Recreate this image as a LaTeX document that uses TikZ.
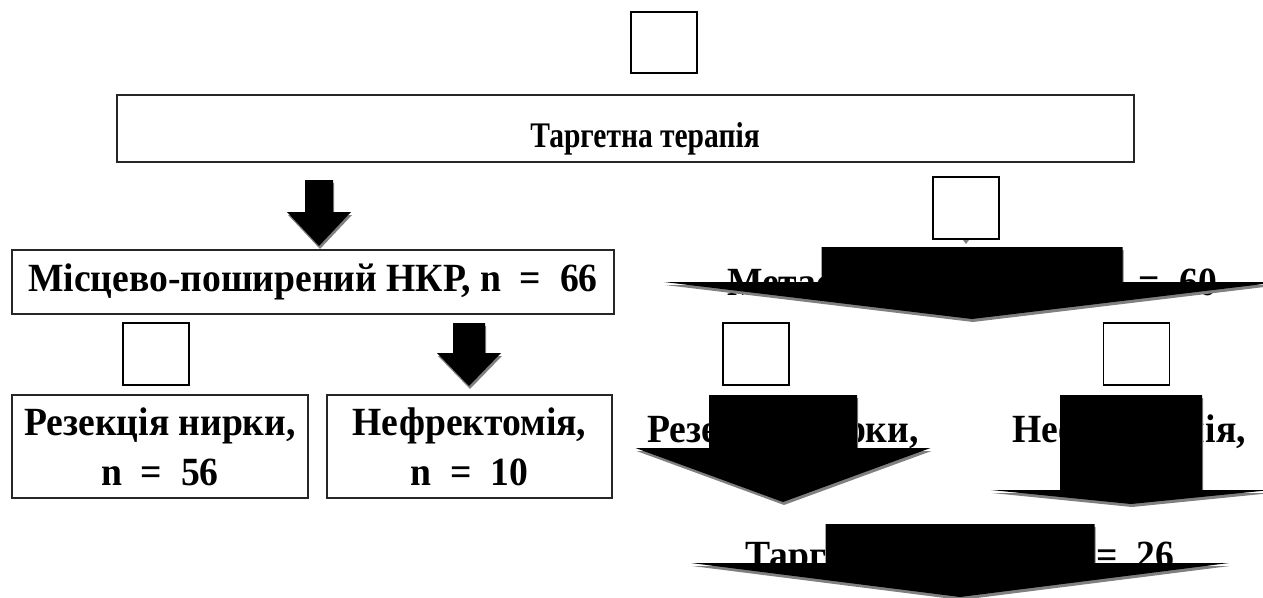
\documentclass[tikz,border=0pt]{standalone}
\usepackage{fontspec}
\setmainfont[FakeStretch=0.94]{Liberation Serif}
\newfontfamily\topfont[FakeStretch=0.82]{Liberation Serif}
\tikzset{
  box/.style={draw=black!85, line width=1.5pt, fill=white, inner sep=0pt},
  lbl/.style={font=\fontsize{40}{50}\selectfont\bfseries, align=center},
  toplbl/.style={font=\topfont\fontsize{36}{40}\selectfont\bfseries, align=center},
  sq/.style={draw=black, line width=1.3pt, fill=white, inner sep=0pt},
  arr/.style={fill=black},
  shd/.style={fill=black!50},
}
% cx, shaft top, shaft half width, head base, head half width, apex
\newcommand\blockarr[6]{%
  \path[shd, shift={(1,3)}] (#1-#3,#2) -- (#1+#3,#2) -- (#1+#3,#4) -- (#1+#5,#4) -- (#1,#6) -- (#1-#5,#4) -- (#1-#3,#4) -- cycle;
  \path[arr] (#1-#3,#2) -- (#1+#3,#2) -- (#1+#3,#4) -- (#1+#5,#4) -- (#1,#6) -- (#1-#5,#4) -- (#1-#3,#4) -- cycle;
}
\begin{document}
\begin{tikzpicture}[x=1pt,y=-1pt]
\useasboundingbox (0,0) rectangle (1263,597);
% left / top part
\node[sq, minimum width=66pt, minimum height=61pt] (s0) at (664,42.5) {};
\node[box, minimum width=1017pt, minimum height=67pt] (tt) at (625.5,128.5) {};
\node[toplbl, anchor=base] (ttl) at (645,147) {Таргетна терапія};
\node[box, lbl, minimum width=602pt, minimum height=64pt] (loc) at (313,282) {Місцево-поширений НКР, n~~=~~66};
\node[sq, minimum width=66pt, minimum height=62pt] (s1) at (156,354) {};
\node[box, lbl, minimum width=296pt, minimum height=103pt] (res) at (160,446.5) {Резекція нирки,\\ n~~=~~56};
\node[box, lbl, minimum width=285pt, minimum height=103pt] (nef) at (469.5,446.5) {Нефректомія,\\ n~~=~~10};
\blockarr{319}{180}{14}{212}{32}{246}
\blockarr{469}{323}{16}{353}{32}{386}
% right part
\node[sq, minimum width=66pt, minimum height=62pt] (s2) at (966,208) {};
\fill[shd] (963,240) -- (969,240) -- (966,244) -- cycle;
\node[lbl, anchor=base] (met) at (972,295) {Метастатичний НКР, n~~=~~60};
\node[sq, minimum width=66pt, minimum height=62pt] (s3) at (756,354) {};
\node[sq, minimum width=66pt, minimum height=62pt] (s4) at (1136.5,354) {};
\node[lbl, anchor=base] (res2) at (783,442) {Резекція нирки,};
\node[lbl, anchor=base] (nef2) at (1129,442) {Нефректомія,};
\node[lbl, anchor=base] (tt2) at (960,568) {Таргетна терапія, n~~=~~26};
\blockarr{972}{247}{150.5}{282}{308}{319}
\blockarr{783}{395}{74}{448}{147.5}{502}
\blockarr{1131}{395}{71}{490}{140}{504}
\blockarr{960}{524}{134.5}{563}{269}{597}
\end{tikzpicture}
\end{document}
